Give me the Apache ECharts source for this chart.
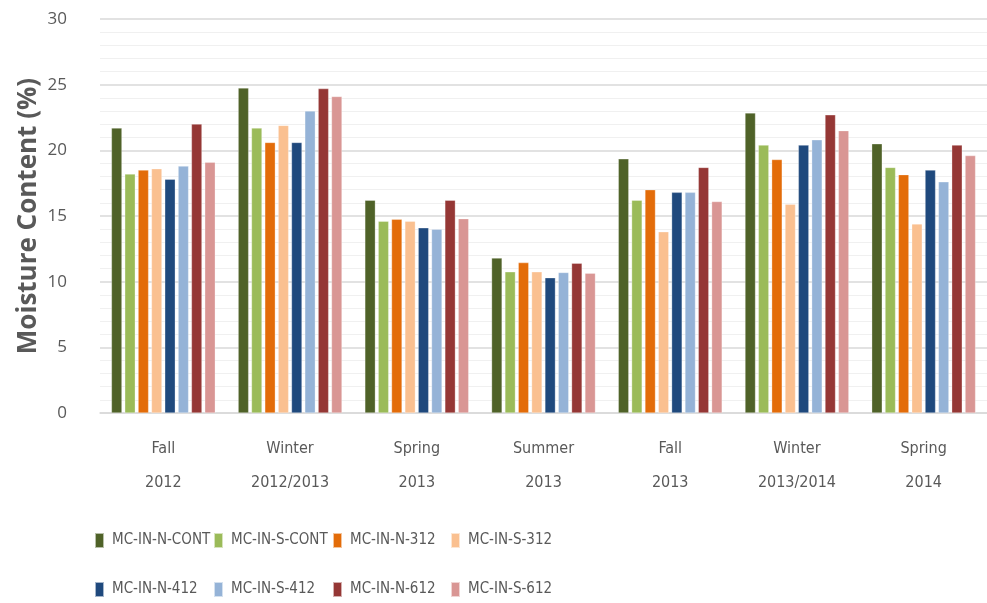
<!DOCTYPE html>
<html>
<head>
<meta charset="utf-8">
<script src="https://cdn.jsdelivr.net/npm/echarts@6/dist/echarts.min.js"></script>
<style>
  html, body { margin: 0; padding: 0; background: #fff; }
  #main { width: 987px; height: 603px; }
</style>
</head>
<body>
<div id="main"></div>
<script>
// seasons on the x axis
var seasons = ['Fall\n2012', 'Winter\n2012/2013', 'Spring\n2013', 'Summer\n2013', 'Fall\n2013', 'Winter\n2013/2014', 'Spring\n2014'];

// moisture content (%) per sensor, one value per season
var nCont = [21.7, 24.75, 16.2, 11.8, 19.35, 22.85, 20.5];
var sCont = [18.2, 21.7, 14.6, 10.75, 16.2, 20.4, 18.7];
var n312  = [18.5, 20.6, 14.75, 11.45, 17.0, 19.3, 18.15];
var s312  = [18.6, 21.9, 14.6, 10.75, 13.8, 15.9, 14.4];
var n412  = [17.8, 20.6, 14.1, 10.3, 16.8, 20.4, 18.5];
var s412  = [18.8, 23.0, 14.0, 10.7, 16.8, 20.8, 17.6];
var n612  = [22.0, 24.7, 16.2, 11.4, 18.7, 22.7, 20.4];
var s612  = [19.1, 24.1, 14.8, 10.65, 16.1, 21.5, 19.6];

var seriesNames = ['MC-IN-N-CONT', 'MC-IN-S-CONT', 'MC-IN-N-312', 'MC-IN-S-312',
                   'MC-IN-N-412', 'MC-IN-S-412', 'MC-IN-N-612', 'MC-IN-S-612'];
var seriesData = [nCont, sCont, n312, s312, n412, s412, n612, s612];
var colors = ['#4F6228', '#9BBB59', '#E36C09', '#FAC090', '#1F497D', '#95B3D7', '#953735', '#D99694'];

var textColor = '#595959';
var fontFam = '"DejaVu Sans Condensed", "Open Sans", sans-serif';

// legend laid out as a 4 x 2 grid like the original
var colLeft = [94, 213, 332, 450];
var rowTop = [532, 581];
var legends = seriesNames.map(function (name, i) {
    return {
        data: [name],
        left: colLeft[i % 4],
        top: rowTop[Math.floor(i / 4)],
        padding: 0,
        itemWidth: 9,
        itemHeight: 15,
        itemGap: 0,
        icon: 'rect',
        selectedMode: false,
        textStyle: { color: textColor, fontSize: 15, fontFamily: fontFam, padding: [0, 0, 0, 3] }
    };
});

var chart = echarts.init(document.getElementById('main'));
var option = {
    animation: false,
    color: colors,
    legend: legends,
    grid: { left: 100, right: 0, top: 19, bottom: 190 },
    xAxis: {
        type: 'category',
        data: seasons,
        axisTick: { show: false },
        axisLine: { lineStyle: { color: '#d9d9d9', width: 1.5 } },
        axisLabel: {
            color: textColor, fontSize: 16, fontFamily: fontFam,
            lineHeight: 34, margin: 19, interval: 0
        }
    },
    yAxis: {
        type: 'value',
        min: 0, max: 30, interval: 5,
        name: 'Moisture Content (%)',
        nameLocation: 'middle',
        nameGap: 58,
        nameMoveOverlap: false,
        nameTextStyle: { color: textColor, fontSize: 26, fontWeight: 'bold', fontFamily: '"Open Sans", sans-serif' },
        axisLabel: { color: textColor, fontSize: 17, fontFamily: '"Open Sans", sans-serif', margin: 33 },
        axisLine: { show: false },
        axisTick: { show: false },
        splitLine: { lineStyle: { color: '#d9d9d9', width: 1.5 } },
        minorTick: { show: false, splitNumber: 5 },
        minorSplitLine: { show: true, lineStyle: { color: '#f0f0f0', width: 1.2 } }
    },
    series: seriesNames.map(function (name, i) {
        return {
            name: name,
            type: 'bar',
            data: seriesData[i],
            barWidth: 10.5,
            barGap: '27%',
            itemStyle: { borderColor: 'rgba(255,255,255,0.6)', borderWidth: 0.5 }
        };
    })
};
chart.setOption(option);
</script>
</body>
</html>
